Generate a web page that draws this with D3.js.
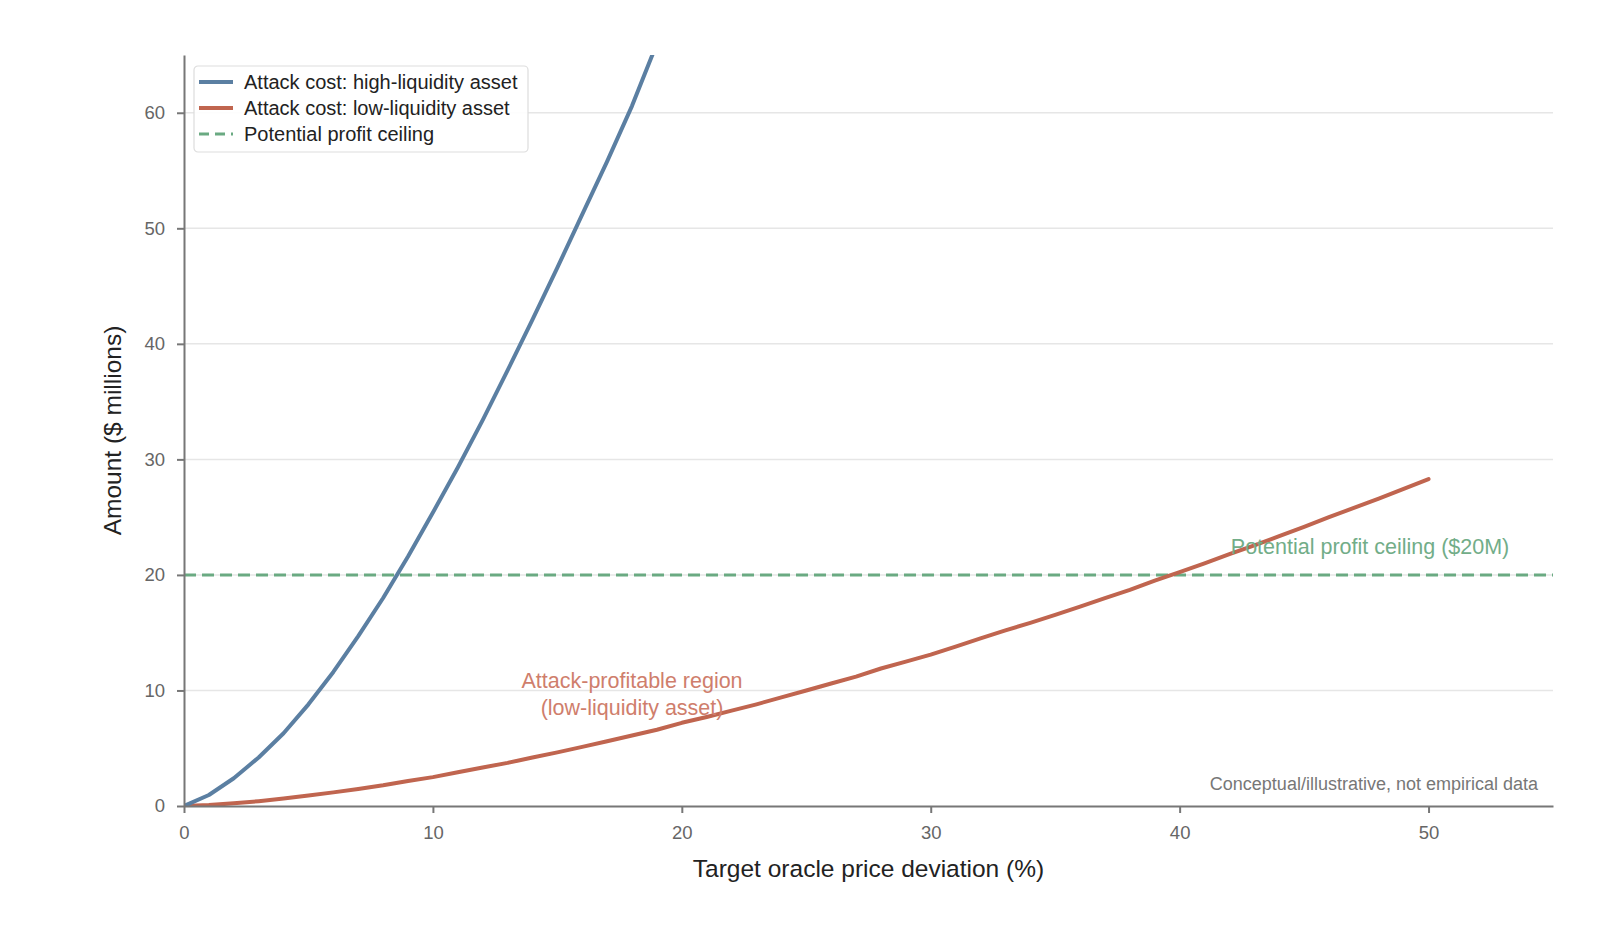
<!DOCTYPE html>
<html>
<head>
<meta charset="utf-8">
<script src="https://cdn.jsdelivr.net/npm/d3@7"></script>
<style>
  body { margin: 0; background: #fff; }
  svg { font-family: "Liberation Sans", Arial, Helvetica, sans-serif; }
  .axis path, .axis line { stroke: #777; stroke-width: 2; }
  .axis text { fill: #666; font-size: 18.5px; }
  .grid line { stroke: #e6e6e6; stroke-width: 1.5; }
</style>
</head>
<body>
<svg id="chart" width="1600" height="942"></svg>
<script>
// deviation (%) sampled every 1 point
const deviationHigh = d3.range(0, 21)
const costHigh = [0, 0.95, 2.4, 4.2, 6.3, 8.8, 11.6, 14.7, 18.0, 21.6, 25.4,
                  29.3, 33.4, 37.7, 42.1, 46.6, 51.2, 55.8, 60.6, 66.0, 71.0]

const deviationLow = d3.range(0, 51)
const costLow = [0, 0.08, 0.23, 0.42, 0.64, 0.9, 1.18, 1.48, 1.8, 2.17, 2.5,
                 2.92, 3.33, 3.73, 4.2, 4.64, 5.12, 5.6, 6.1, 6.6, 7.2,
                 7.7, 8.25, 8.8, 9.4, 10.0, 10.6, 11.2, 11.9, 12.5, 13.1,
                 13.8, 14.5, 15.2, 15.85, 16.55, 17.25, 18.0, 18.7, 19.5, 20.25,
                 21.0, 21.8, 22.55, 23.35, 24.15, 25.0, 25.8, 26.6, 27.45, 28.3]

const profitCeiling = 20
const xTicks = [0, 10, 20, 30, 40, 50]
const yTicks = [0, 10, 20, 30, 40, 50, 60]

const seriesNames = ['Attack cost: high-liquidity asset', 'Attack cost: low-liquidity asset', 'Potential profit ceiling']
const colors = ['#5b7fa2', '#c0654f', '#6aaa82']

const margin = {left: 184, right: 47, top: 55, bottom: 136}
const width = 1600 - margin.left - margin.right
const height = 942 - margin.top - margin.bottom

const svg = d3.select('#chart')

var x = d3.scaleLinear().domain([0, 55]).range([0, width])
var y = d3.scaleLinear().domain([0, 65]).range([height, 0])

const g = svg.append('g').attr('transform', 'translate(' + margin.left + ',' + margin.top + ')')

// horizontal grid
g.append('g').attr('class', 'grid')
  .selectAll('line').data(yTicks.filter(d => d > 0)).enter().append('line')
  .attr('x1', 0).attr('x2', width)
  .attr('y1', d => y(d)).attr('y2', d => y(d))

g.append('defs').append('clipPath').attr('id', 'plotclip')
  .append('rect').attr('x', 0).attr('y', 0).attr('width', width).attr('height', height)

const line = d3.line().x(d => x(d[0])).y(d => y(d[1]))

const plot = g.append('g').attr('clip-path', 'url(#plotclip)')

// profit ceiling
plot.append('line')
  .attr('x1', x(0)).attr('x2', x(55))
  .attr('y1', y(profitCeiling)).attr('y2', y(profitCeiling))
  .attr('stroke', colors[2]).attr('stroke-width', 3)
  .attr('stroke-dasharray', '12,6')

plot.append('path')
  .datum(deviationLow.map((d, i) => [d, costLow[i]]))
  .attr('d', line).attr('fill', 'none')
  .attr('stroke', colors[1]).attr('stroke-width', 4)
  .attr('stroke-linejoin', 'round').attr('stroke-linecap', 'round')

plot.append('path')
  .datum(deviationHigh.map((d, i) => [d, costHigh[i]]))
  .attr('d', line).attr('fill', 'none')
  .attr('stroke', colors[0]).attr('stroke-width', 4)
  .attr('stroke-linejoin', 'round').attr('stroke-linecap', 'round')

// axes
g.append('g').attr('class', 'axis x')
  .attr('transform', 'translate(0,' + height + ')')
  .call(d3.axisBottom(x).tickValues(xTicks).tickSize(7).tickPadding(13).tickSizeOuter(0))

g.append('g').attr('class', 'axis y')
  .call(d3.axisLeft(y).tickValues(yTicks).tickSize(7).tickPadding(12).tickSizeOuter(0))

g.selectAll('.axis .domain').attr('stroke', '#777')

// axis labels
svg.append('text')
  .attr('x', margin.left + x(27.5)).attr('y', 877)
  .attr('text-anchor', 'middle').attr('font-size', 24.5).attr('fill', '#222')
  .text('Target oracle price deviation (%)')

svg.append('text')
  .attr('transform', 'translate(121,' + (margin.top + y(32.5)) + ') rotate(-90)')
  .attr('text-anchor', 'middle').attr('font-size', 24.5).attr('fill', '#222')
  .text('Amount ($ millions)')

// annotations
const ann = g.append('text')
  .attr('text-anchor', 'middle').attr('font-size', 21.5).attr('fill', '#cf7e6c')
ann.append('tspan').attr('x', x(18.0)).attr('y', y(10.25)).text('Attack-profitable region')
ann.append('tspan').attr('x', x(18.0)).attr('y', y(7.85)).text('(low-liquidity asset)')

g.append('text')
  .attr('x', x(47.65)).attr('y', y(21.8))
  .attr('text-anchor', 'middle').attr('font-size', 21.5).attr('fill', '#72ad88')
  .text('Potential profit ceiling ($20M)')

g.append('text')
  .attr('x', width - 15).attr('y', height - 16)
  .attr('text-anchor', 'end').attr('font-size', 18).attr('fill', '#777')
  .text('Conceptual/illustrative, not empirical data')

// legend
const legend = g.append('g').attr('transform', 'translate(10,11)')
legend.append('rect')
  .attr('width', 334).attr('height', 86).attr('rx', 4)
  .attr('fill', '#fff').attr('fill-opacity', 0.9)
  .attr('stroke', '#ddd').attr('stroke-width', 1.2)

seriesNames.forEach((name, i) => {
  const row = legend.append('g').attr('transform', 'translate(0,' + (16 + i * 26) + ')')
  row.append('line')
    .attr('x1', 5).attr('x2', 39).attr('y1', 0).attr('y2', 0)
    .attr('stroke', colors[i]).attr('stroke-width', i === 2 ? 3 : 4)
    .attr('stroke-dasharray', i === 2 ? '10,6' : null)
  row.append('text')
    .attr('x', 50).attr('y', 7)
    .attr('font-size', 20).attr('fill', '#222')
    .text(name)
})
</script>
</body>
</html>
